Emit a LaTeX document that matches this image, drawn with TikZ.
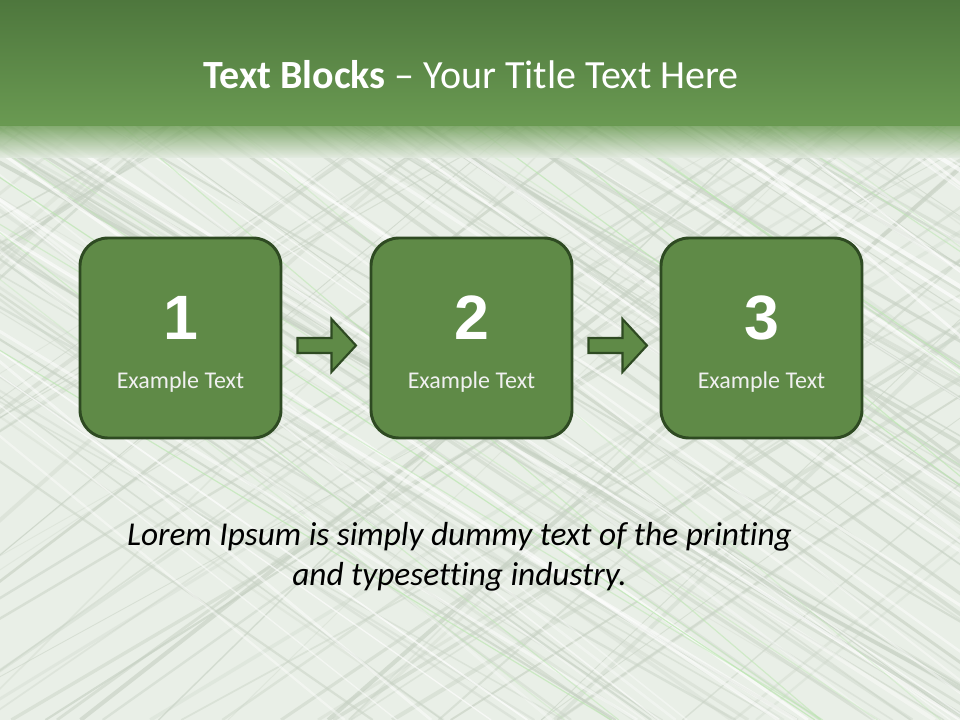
\documentclass[tikz,border=0pt]{standalone}
\usepackage{fontspec}
\setmainfont{Carlito}[Ligatures=NoCommon]
\newfontfamily\numfont{Liberation Sans}
\usetikzlibrary{calc}
\definecolor{hdrtop}{HTML}{4E773D}
\definecolor{hdrbot}{HTML}{6A9A52}
\definecolor{bgc}{HTML}{E4EBE1}
\definecolor{boxfill}{HTML}{5F8A47}
\definecolor{boxline}{HTML}{2E4A22}
\definecolor{linegray}{HTML}{B9C6B5}
\definecolor{linegreen}{HTML}{A8E09A}
\tikzset{
  stepbox/.style={draw=boxline, line width=2.2pt, fill=boxfill, rounded corners=21pt,
    minimum width=150.75pt, minimum height=150pt, inner sep=0pt},
  numtext/.style={text=white, font=\numfont\bfseries\fontsize{47}{47}\selectfont},
  labtext/.style={text=white!94!black, font=\fontsize{18}{21}\selectfont},
  blockarrow/.style={draw=boxline, line width=1.6pt, fill=boxfill, line join=miter},
}
\begin{document}
\begin{tikzpicture}[x=0.75pt,y=-0.75pt]
\useasboundingbox (0,0) rectangle (960,720);
% background
\fill[bgc] (0,0) rectangle (960,720);
\begin{scope}
\clip (0,120) rectangle (960,720);
\pgfmathsetseed{11}
\foreach \i in {1,...,80}{
  \pgfmathsetmacro\xa{rnd*1500-500}
  \pgfmathsetmacro\dx{800+rnd*300}
  \pgfmathsetmacro\op{0.25+rnd*0.45}
  \pgfmathsetmacro\lw{0.6+rnd*2.5}
  \draw[linegray, line width=\lw pt, opacity=\op] (\xa,120) -- (\xa+\dx,720);
}
\foreach \i in {1,...,60}{
  \pgfmathsetmacro\xa{rnd*1500}
  \pgfmathsetmacro\dx{600+rnd*500}
  \pgfmathsetmacro\op{0.25+rnd*0.45}
  \pgfmathsetmacro\lw{0.6+rnd*2.5}
  \draw[linegray, line width=\lw pt, opacity=\op] (\xa,120) -- (\xa-\dx,720);
}
\foreach \i in {1,...,45}{
  \pgfmathsetmacro\xa{rnd*1500-400}
  \pgfmathsetmacro\dx{700+rnd*300}
  \pgfmathsetmacro\op{0.3+rnd*0.4}
  \pgfmathsetmacro\lw{0.8+rnd*2.5}
  \draw[white, line width=\lw pt, opacity=\op] (\xa,120) -- (\xa+\dx,720);
}
\foreach \i in {1,...,20}{
  \pgfmathsetmacro\xa{rnd*1500-400}
  \pgfmathsetmacro\dx{700+rnd*300}
  \pgfmathsetmacro\op{0.3+rnd*0.4}
  \draw[linegreen, line width=0.9pt, opacity=\op] (\xa,120) -- (\xa+\dx,720);
}
\end{scope}
% soften the texture
\fill[white, opacity=0.2] (0,120) rectangle (960,720);
% header
\shade[top color=hdrtop, bottom color=hdrbot] (0,0) rectangle (960,126);
\shade[top color=hdrbot, bottom color=bgc, opacity=0.8] (0,125.5) rectangle (960,158);
\node[text=white, font=\fontsize{30}{35}\selectfont] (title) at (471,75)
  {\textbf{Text Blocks} – Your Title Text Here};
% boxes
\foreach \n/\x in {1/180.5, 2/471.5, 3/761.5}{
  \node[stepbox] (b\n) at (\x,338) {};
  \node[numtext] (n\n) at (\x,318) {\n};
  \node[labtext] (l\n) at (\x,382) {Example Text};
}
% block arrows
\foreach \a/\b in {b1/b2, b2/b3}{
  \draw[blockarrow] ($(\a.east)+(15,0)$) -- ++(34,0) -- ++(0,-19) -- ++(24.5,26.5)
    -- ++(-24.5,26.5) -- ++(0,-19) -- ++(-34,0) -- cycle;
}
% caption
\node[align=center, font=\itshape\fontsize{25}{30}\selectfont, text=black] (cap) at (459.5,557)
  {Lorem Ipsum is simply dummy text of the printing\\and typesetting industry.};
\end{tikzpicture}
\end{document}
